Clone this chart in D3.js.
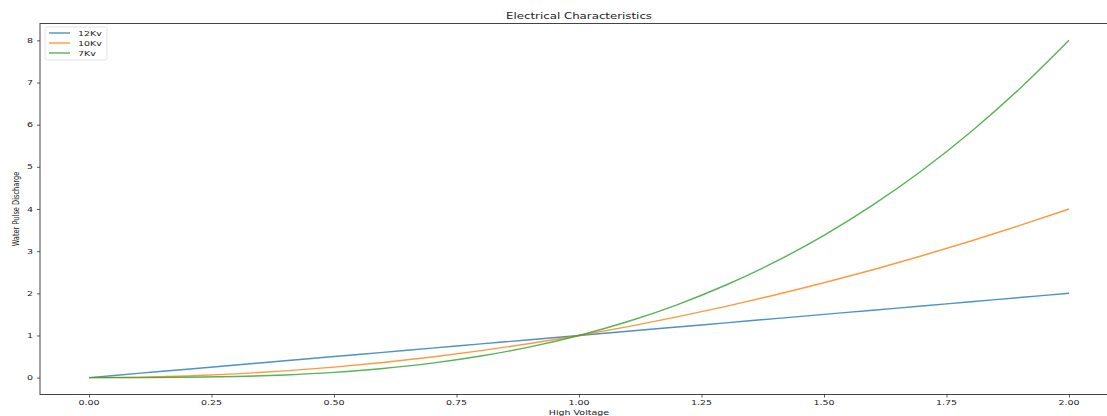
<!DOCTYPE html>
<html>
<head>
<meta charset="utf-8">
<script src="https://cdn.jsdelivr.net/npm/d3@7"></script>
<style>
  body { margin: 0; background: #fff; }
  svg text { font-family: "DejaVu Sans", sans-serif; fill: #222; }
</style>
</head>
<body>
<div id="chart"></div>
<script>
// data
var xValues = [0, 0.1, 0.2, 0.3, 0.4, 0.5, 0.6, 0.7, 0.8, 0.9, 1.0,
               1.1, 1.2, 1.3, 1.4, 1.5, 1.6, 1.7, 1.8, 1.9, 2.0];
var kv12 = [0, 0.1, 0.2, 0.3, 0.4, 0.5, 0.6, 0.7, 0.8, 0.9, 1.0,
            1.1, 1.2, 1.3, 1.4, 1.5, 1.6, 1.7, 1.8, 1.9, 2.0];
var kv10 = [0, 0.01, 0.04, 0.09, 0.16, 0.25, 0.36, 0.49, 0.64, 0.81, 1.0,
            1.21, 1.44, 1.69, 1.96, 2.25, 2.56, 2.89, 3.24, 3.61, 4.0];
var kv7 = [0, 0.001, 0.008, 0.027, 0.064, 0.125, 0.216, 0.343, 0.512, 0.729, 1.0,
           1.331, 1.728, 2.197, 2.744, 3.375, 4.096, 4.913, 5.832, 6.859, 8.0];
var seriesNames = ["12Kv", "10Kv", "7Kv"];
var colors = ["#1f77b4", "#ff7f0e", "#2ca02c"];
var xTicks = [0, 0.25, 0.5, 0.75, 1.0, 1.25, 1.5, 1.75, 2.0];
var xTickLabels = ["0.00", "0.25", "0.50", "0.75", "1.00", "1.25", "1.50", "1.75", "2.00"];
var yTicks = [0, 1, 2, 3, 4, 5, 6, 7, 8];
var yTickLabels = ["0", "1", "2", "3", "4", "5", "6", "7", "8"];

var svgWidth = 1107;
var svgHeight = 416;
var sy = 0.7;   // the picture is squashed vertically, text too
var fs = 9.5;

var svg = d3.select("#chart").append("svg")
  .attr("width", svgWidth)
  .attr("height", svgHeight);

var plotLeft = 40, plotRight = 1118, plotTop = 23.5, plotBottom = 394.5;

var x = d3.scaleLinear().domain([-0.1, 2.1]).range([plotLeft, plotRight]);
var y = d3.scaleLinear().domain([-0.4, 8.4]).range([plotBottom, plotTop]);

// lines
var allSeries = [kv12, kv10, kv7];
var line = d3.line()
  .x((d, i) => x(xValues[i]))
  .y(d => y(d))
  .curve(d3.curveMonotoneX);

allSeries.forEach(function(vals, i) {
  svg.append("path")
    .datum(vals)
    .attr("d", line)
    .attr("fill", "none")
    .attr("stroke", colors[i])
    .attr("stroke-opacity", 0.8)
    .attr("stroke-width", 1.4);
});

// spines
svg.append("rect")
  .attr("x", plotLeft).attr("y", plotTop)
  .attr("width", plotRight - plotLeft).attr("height", plotBottom - plotTop)
  .attr("fill", "none")
  .attr("stroke", "#444")
  .attr("stroke-width", 1);

// x ticks
svg.append("g")
  .attr("transform", `translate(0, ${plotBottom})`)
  .call(d3.axisBottom(x).tickValues(xTicks).tickSize(3).tickFormat(""))
  .call(g => g.select(".domain").remove())
  .call(g => g.selectAll("line").attr("stroke", "#333").attr("stroke-width", 0.8));

svg.selectAll("text.xlab")
  .data(xTicks)
  .enter()
  .append("text")
  .attr("class", "xlab")
  .attr("transform", d => `translate(${x(d)}, ${405}) scale(1, ${sy})`)
  .attr("text-anchor", "middle")
  .attr("font-size", fs)
  .text((d, i) => xTickLabels[i]);

// y ticks
svg.append("g")
  .attr("transform", `translate(${plotLeft}, 0)`)
  .call(d3.axisLeft(y).tickValues(yTicks).tickSize(3).tickFormat(""))
  .call(g => g.select(".domain").remove())
  .call(g => g.selectAll("line").attr("stroke", "#333").attr("stroke-width", 0.8));

svg.selectAll("text.ylab")
  .data(yTicks)
  .enter()
  .append("text")
  .attr("class", "ylab")
  .attr("transform", d => `translate(33, ${y(d) + 2.5}) scale(1, ${sy})`)
  .attr("text-anchor", "end")
  .attr("font-size", fs)
  .text((d, i) => yTickLabels[i]);

// title and axis labels
svg.append("text")
  .attr("transform", `translate(${(plotLeft + plotRight) / 2}, 18.5) scale(1, ${sy})`)
  .attr("text-anchor", "middle")
  .attr("font-size", 11.8)
  .text("Electrical Characteristics");

svg.append("text")
  .attr("transform", `translate(${(plotLeft + plotRight) / 2}, 414.5) scale(1, ${sy})`)
  .attr("text-anchor", "middle")
  .attr("font-size", fs)
  .text("High Voltage");

svg.append("text")
  .attr("transform", `translate(19, ${(plotTop + plotBottom) / 2}) scale(1, ${sy}) rotate(-90)`)
  .attr("text-anchor", "middle")
  .attr("font-size", fs)
  .text("Water Pulse Discharge");

// legend
var legend = svg.append("g").attr("transform", "translate(45, 27)");
legend.append("rect")
  .attr("width", 62).attr("height", 33)
  .attr("rx", 2)
  .attr("fill", "#fff")
  .attr("stroke", "#ddd")
  .attr("stroke-width", 0.8);

seriesNames.forEach(function(name, i) {
  var ly = 6 + i * 10;
  legend.append("line")
    .attr("x1", 4).attr("x2", 25)
    .attr("y1", ly).attr("y2", ly)
    .attr("stroke", colors[i])
    .attr("stroke-opacity", 0.8)
    .attr("stroke-width", 1.4);
  legend.append("text")
    .attr("transform", `translate(33, ${ly + 2.5}) scale(1, ${sy})`)
    .attr("font-size", fs)
    .text(name);
});
</script>
</body>
</html>
